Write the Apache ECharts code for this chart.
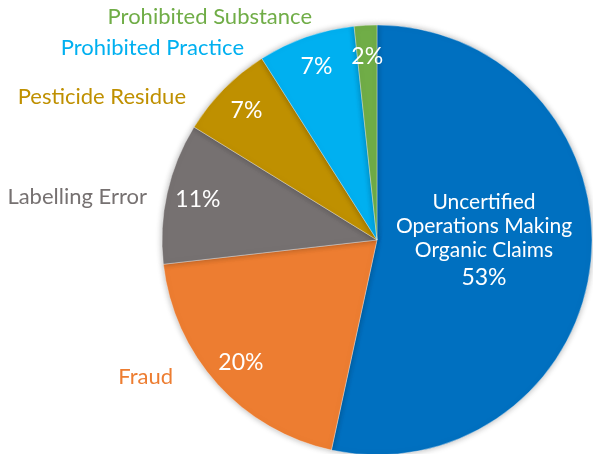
<!DOCTYPE html>
<html>
<head>
<meta charset="utf-8">
<script src="https://cdn.jsdelivr.net/npm/echarts@6/dist/echarts.min.js"></script>
<style>
  html, body { margin: 0; padding: 0; background: #fff; }
  #pie { width: 593px; height: 454px; }
</style>
</head>
<body>
<div id="pie"></div>
<script>
// categories, clockwise from 12 o'clock
var categories = [
  "Uncertified Operations Making Organic Claims",
  "Fraud",
  "Labelling Error",
  "Pesticide Residue",
  "Prohibited Practice",
  "Prohibited Substance"
];
// share of complaints (%)
var shares = [53.4, 19.8, 10.6, 7.2, 7.3, 1.7];
var colors = ["#0070C0", "#ED7D31", "#767171", "#BF9000", "#00B0F0", "#70AD47"];

var dom = document.getElementById("pie");
var myChart = echarts.init(dom, null, { renderer: "canvas" });

var font = "Lato, 'Open Sans', sans-serif";
var pieData = categories.map(function (c, i) {
  return { name: c, value: shares[i], itemStyle: { color: colors[i] } };
});

// where the labels of the big pie sit: [x, y, align]
var labelSpots = {
  0: [484, 242, "center"],
  1: [173, 377, "right"],
  2: [147, 197, "right"],
  3: [186, 97, "right"],
  4: [244, 48, "right"],
  5: [312, 17, "right"]
};

var option = {
  backgroundColor: "#fff",
  animation: false,
  series: [
    {
      name: "main",
      type: "pie",
      center: [377, 240],
      radius: [0, 215],
      startAngle: 90,
      clockwise: true,
      avoidLabelOverlap: false,
      silent: true,
      itemStyle: {
        borderColor: "rgba(255,255,255,0.6)",
        borderWidth: 0.6,
        shadowBlur: 6,
        shadowColor: "rgba(0,0,0,0.3)"
      },
      label: {
        show: true,
        position: "outside",
        fontFamily: font,
        fontSize: 22,
        formatter: function (p) {
          if (p.dataIndex === 0) {
            return "{n|Uncertified}\n{n|Operations Making}\n{n|Organic Claims}\n{p|" + Math.round(p.percent) + "%}";
          }
          return p.name;
        },
        rich: {
          n: { fontFamily: font, fontSize: 21, color: "#fff", lineHeight: 24, align: "center" },
          p: { fontFamily: font, fontSize: 23, color: "#fff", lineHeight: 32, align: "center" }
        }
      },
      labelLine: { show: false },
      labelLayout: function (p) {
        var s = labelSpots[p.dataIndex];
        if (!s) return {};
        return { x: s[0], y: s[1], align: s[2], verticalAlign: "middle" };
      },
      data: pieData.map(function (d, i) {
        if (i === 0) {
          return Object.assign({}, d, { label: { position: "inside" } });
        }
        return Object.assign({}, d, { label: { color: colors[i] } });
      })
    },
    {
      name: "pct",
      type: "pie",
      center: [377, 240],
      radius: [146, 215],
      startAngle: 90,
      clockwise: true,
      avoidLabelOverlap: false,
      silent: true,
      itemStyle: { color: "rgba(0,0,0,0)" },
      label: {
        show: true,
        position: "inside",
        fontFamily: font,
        fontSize: 23,
        color: "#fff",
        formatter: function (p) {
          return p.dataIndex === 0 ? "" : Math.round(p.percent) + "%";
        }
      },
      labelLine: { show: false },
      data: pieData.map(function (d) {
        return { name: d.name, value: d.value };
      })
    }
  ]
};

myChart.setOption(option);
window.addEventListener("resize", myChart.resize);
</script>
</body>
</html>
